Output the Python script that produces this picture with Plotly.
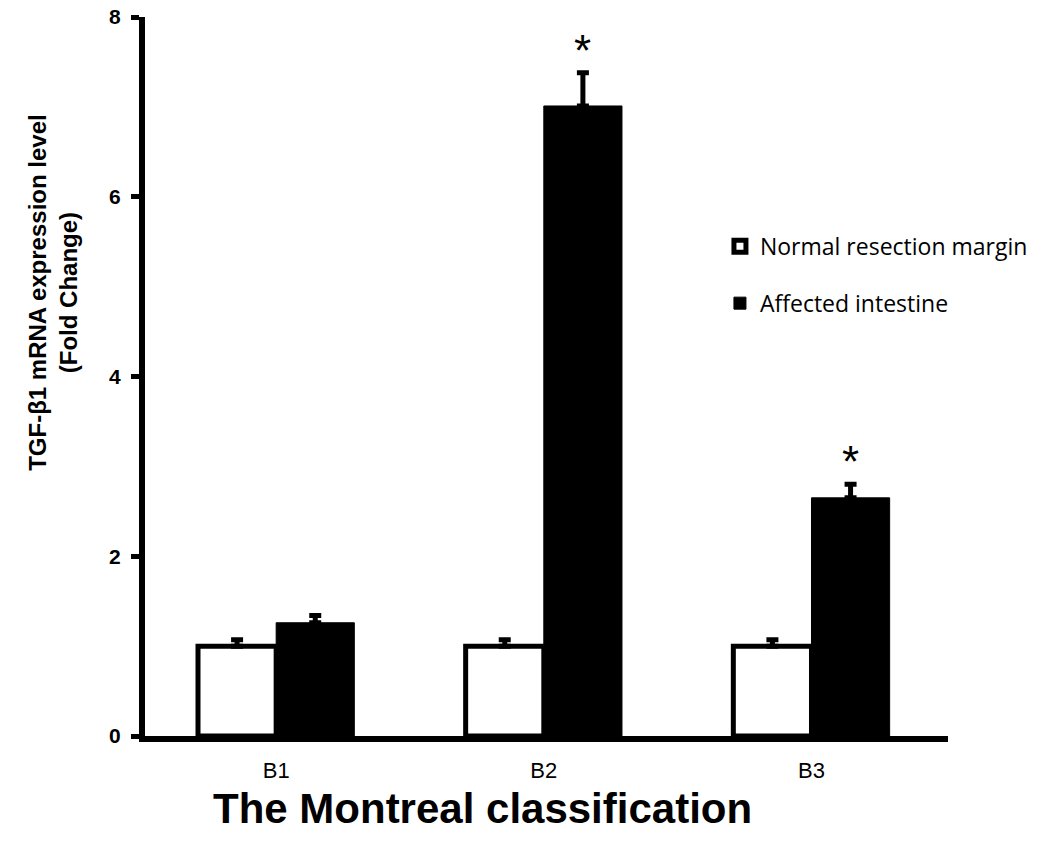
import plotly.graph_objects as go

categories = ["B1", "B2", "B3"]
normal_vals = [1.0, 1.0, 1.0]
normal_err = [0.07, 0.07, 0.07]
affected_vals = [1.26, 7.01, 2.65]
affected_err = [0.08, 0.37, 0.15]
significant = [False, True, True]

fig = go.Figure()

# only the upper half of each error bar is visible in the original
fig.add_trace(go.Bar(
    x=categories, y=normal_vals, name="Normal resection margin",
    marker=dict(color="white", line=dict(color="black", width=5)),
    error_y=dict(type="data", array=normal_err, arrayminus=[0] * len(normal_err),
                 symmetric=False, visible=True, color="black", thickness=5, width=6),
    legendgroup="a",
))
fig.add_trace(go.Bar(
    x=categories, y=affected_vals, name="Affected intestine",
    marker=dict(color="black", line=dict(color="black", width=1)),
    error_y=dict(type="data", array=affected_err, arrayminus=[0] * len(affected_err),
                 symmetric=False, visible=True, color="black", thickness=5, width=6),
    legendgroup="b",
))

# asterisks above significant bars
for i, (v, e, s) in enumerate(zip(affected_vals, affected_err, significant)):
    if s:
        fig.add_annotation(x=i + 0.145, y=v + e, text="*", showarrow=False,
                           yanchor="bottom", yshift=-4,
                           font=dict(family="Liberation Sans", size=44, color="black"))

fig.add_annotation(
    text="<b>TGF-β1 mRNA expression level<br>(Fold Change)</b>",
    x=-0.114, y=0.617, xref="paper", yref="paper", textangle=-90,
    xanchor="center", yanchor="middle", showarrow=False,
    font=dict(family="Liberation Sans", size=24, color="black"),
)
fig.add_annotation(
    text="<b>The Montreal classification</b>",
    x=0.42, y=0, xref="paper", yref="paper", xanchor="center", yanchor="middle",
    yshift=-72, showarrow=False,
    font=dict(family="Liberation Sans", size=42, color="black"),
)

fig.update_layout(
    width=1034, height=826,
    margin=dict(l=137, r=84, t=9, b=98),
    plot_bgcolor="white", paper_bgcolor="white",
    barmode="group", bargap=0.416, bargroupgap=0,
    font=dict(family="Liberation Sans", color="black"),
    legend=dict(x=0.716, y=0.711, xanchor="left", yanchor="top",
                font=dict(family="Open Sans", size=23, color="black"),
                tracegroupgap=24, traceorder="grouped",
                bgcolor="rgba(0,0,0,0)", itemwidth=30),
)
fig.update_xaxes(
    range=[-0.49, 2.51], showline=True, linecolor="black", linewidth=6,
    ticks="", tickfont=dict(size=22, family="Liberation Sans"),
    ticklabelstandoff=10,
    showgrid=False, zeroline=False, automargin=False,
)
fig.update_yaxes(
    range=[0, 8], dtick=2, showline=True, linecolor="black", linewidth=6,
    ticks="outside", ticklen=8, tickwidth=5, tickcolor="black",
    tickfont=dict(size=21, family="Liberation Sans"),
    ticklabelstandoff=6, ticklabeloverflow="allow",
    showgrid=False, zeroline=False, tickprefix="<b>", ticksuffix="</b>",
    automargin=False,
)

fig.write_html("out.html")
